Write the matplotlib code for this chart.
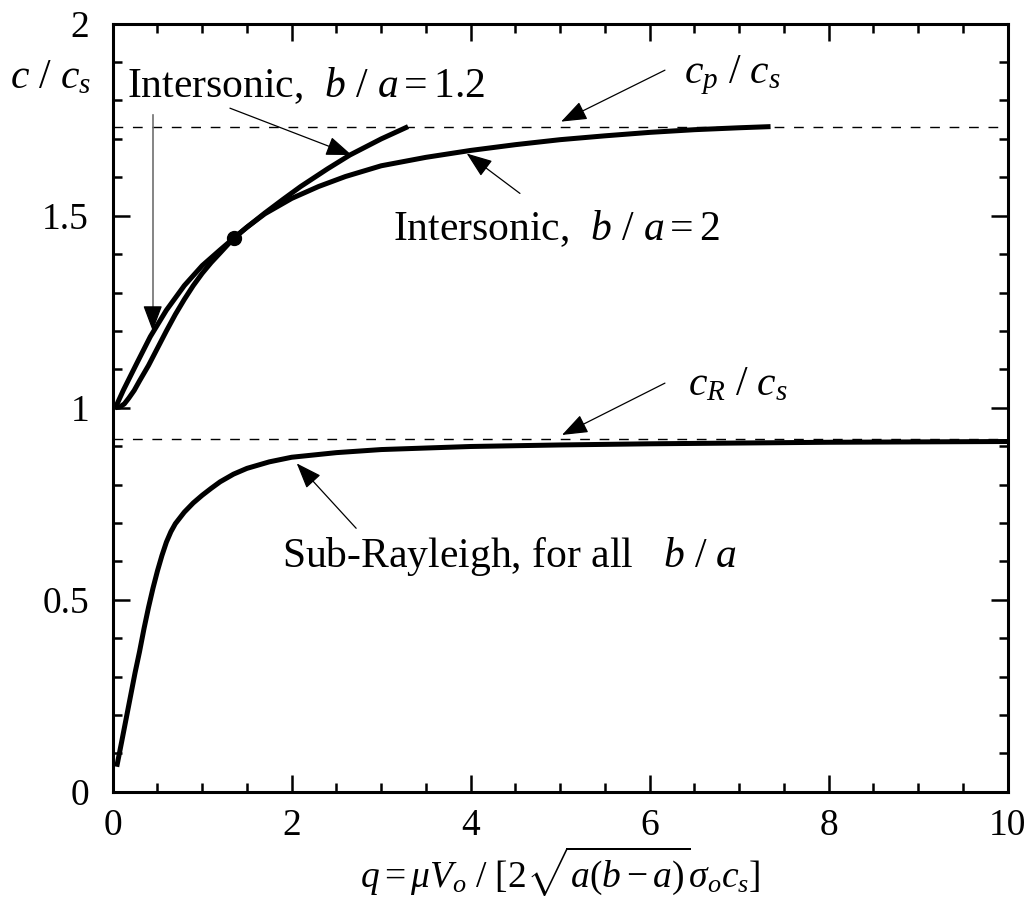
import matplotlib
matplotlib.use("Agg")
import matplotlib.pyplot as plt
from matplotlib.ticker import MultipleLocator

plt.rcParams['font.family'] = ['Liberation Serif', 'DejaVu Serif']
plt.rcParams['mathtext.fontset'] = 'custom'
plt.rcParams['mathtext.rm'] = 'Liberation Serif'
plt.rcParams['mathtext.it'] = 'Liberation Serif:italic'
plt.rcParams['mathtext.bf'] = 'Liberation Serif:bold'

# wave speed ratios (dashed reference lines)
cp_cs = 1.732
cR_cs = 0.919

# sub-Rayleigh branch, same for all b/a
q_sub = [0.045, 0.1, 0.15, 0.2, 0.25, 0.3, 0.35, 0.4, 0.45, 0.5, 0.55, 0.6, 0.65, 0.7,
         0.8, 0.9, 1.0, 1.1, 1.2, 1.35, 1.5, 1.75, 2.0, 2.5, 3.0, 3.5, 4.0, 5.0,
         6.0, 7.0, 8.0, 9.0, 10.0]
c_sub = [0.065, 0.13, 0.19, 0.25, 0.31, 0.365, 0.425, 0.48, 0.53, 0.575, 0.615, 0.65,
         0.677, 0.698, 0.728, 0.752, 0.772, 0.79, 0.807, 0.827, 0.842, 0.859, 0.871,
         0.883, 0.891, 0.895, 0.899, 0.903, 0.906, 0.908, 0.910, 0.911, 0.912]

# intersonic branch, b/a = 2
q_b2 = [0.03, 0.08, 0.13, 0.18, 0.24, 0.3, 0.4, 0.5, 0.6, 0.7, 0.8, 0.9, 1.0, 1.1,
        1.2, 1.35, 1.5, 1.7, 2.0, 2.3, 2.6, 3.0, 3.5, 4.0, 4.5, 5.0, 5.5, 6.0, 6.5,
        7.0, 7.35]
c_b2 = [1.0, 1.002, 1.01, 1.025, 1.045, 1.07, 1.11, 1.155, 1.2, 1.243, 1.282, 1.318,
        1.35, 1.378, 1.403, 1.441, 1.47, 1.505, 1.545, 1.576, 1.602, 1.63, 1.652, 1.670,
        1.685, 1.698, 1.708, 1.717, 1.724, 1.729, 1.732]

# intersonic branch, b/a = 1.2
q_b12 = [0.03, 0.12, 0.27, 0.42, 0.6, 0.8, 1.0, 1.2, 1.35, 1.5, 1.7, 1.9, 2.1, 2.4,
         2.65, 3.0, 3.3]
c_b12 = [1.0, 1.046, 1.116, 1.185, 1.254, 1.318, 1.37, 1.411, 1.441, 1.47, 1.507,
         1.542, 1.576, 1.622, 1.658, 1.70, 1.732]

# point where the two intersonic branches meet
q_dot = 1.35
c_dot = 1.441

fig = plt.figure(figsize=(10.34, 9.01), dpi=100)
ax = fig.add_axes([0.109, 0.1213, 0.8656, 0.8524])

ax.axhline(cp_cs, color='k', lw=1.0, linestyle=(0, (7, 7)))
ax.axhline(cR_cs, color='k', lw=1.0, linestyle=(0, (7, 7)))

ax.plot(q_sub, c_sub, color='k', lw=3.6, solid_capstyle='butt')
ax.plot(q_b2, c_b2, color='k', lw=3.6, solid_capstyle='butt')
ax.plot(q_b12, c_b12, color='k', lw=3.6, solid_capstyle='butt')
ax.plot([q_dot], [c_dot], 'o', color='k', markersize=10)

ax.set_xlim(0, 10)
ax.set_ylim(0, 2)
ax.xaxis.set_major_locator(MultipleLocator(2))
ax.xaxis.set_minor_locator(MultipleLocator(0.5))
ax.yaxis.set_major_locator(MultipleLocator(0.5))
ax.yaxis.set_minor_locator(MultipleLocator(0.1))
ax.yaxis.set_major_formatter(plt.FuncFormatter(lambda v, p: f"{v:g}"))

ax.tick_params(which='both', direction='in', top=True, right=True, width=1.8,
               labelsize=27)
ax.tick_params(which='major', length=12.5)
ax.tick_params(which='minor', length=6.5)
ax.tick_params(axis='y', pad=17)
ax.tick_params(axis='x', pad=12)
for s in ax.spines.values():
    s.set_linewidth(2.2)

ax.set_xlabel(r"$q = \mu V_o\ /\ [2\sqrt{a(b-a)}\sigma_o c_s]$", fontsize=27, labelpad=1)
ax.text(-1.15, 1.832, r"$c\ /\ c_s$", fontsize=30, ha='left', va='baseline', clip_on=False)

# labels
fs = 30
ax.text(0.156, 1.809, r"Intersonic,  $b\ /\ a = 1.2$", fontsize=fs, ha='left', va='baseline')
ax.text(3.135, 1.437, r"Intersonic,  $b\ /\ a = 2$", fontsize=fs, ha='left', va='baseline')
ax.text(6.38, 1.845, r"$c_p\ /\ c_s$", fontsize=fs, ha='left', va='baseline')
ax.text(6.43, 1.033, r"$c_R\ /\ c_s$", fontsize=fs, ha='left', va='baseline')
ax.text(1.888, 0.586, r"Sub-Rayleigh, for all   $b\ /\ a$", fontsize=fs, ha='left', va='baseline')

# arrows
arrow = dict(arrowstyle='-|>,head_length=0.8,head_width=0.3', lw=0.9, color='k',
             shrinkA=0, shrinkB=0, mutation_scale=20)
ax.annotate('', xy=(2.67, 1.658), xytext=(1.31, 1.78), arrowprops=arrow)
# vertical pointer: grey shaft, black head
ax.plot([0.447, 0.447], [1.762, 1.25], color='#707070', lw=1.2)
ax.annotate('', xy=(0.447, 1.20), xytext=(0.447, 1.26), arrowprops=arrow)
ax.annotate('', xy=(5.01, 1.745), xytext=(6.17, 1.879), arrowprops=arrow)
ax.annotate('', xy=(3.955, 1.662), xytext=(4.55, 1.558), arrowprops=arrow)
ax.annotate('', xy=(5.02, 0.929), xytext=(6.17, 1.064), arrowprops=arrow)
ax.annotate('', xy=(2.056, 0.855), xytext=(2.72, 0.686), arrowprops=arrow)

fig.savefig("out.png", dpi=100)
